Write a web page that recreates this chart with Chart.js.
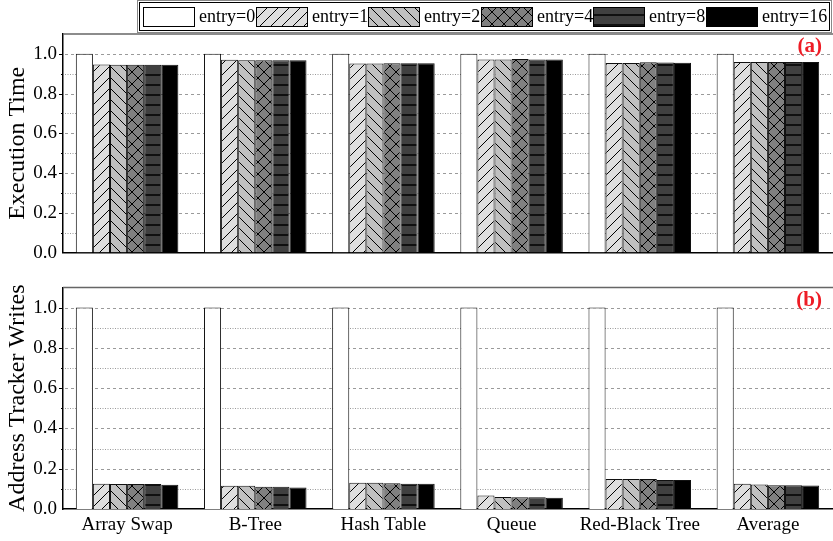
<!DOCTYPE html>
<html>
<head>
<meta charset="utf-8">
<script src="https://cdn.jsdelivr.net/npm/chart.js@4/dist/chart.umd.min.js"></script>
<style>
  html, body { margin: 0; padding: 0; background: #fff; }
  #wrap { position: relative; width: 833px; height: 541px; overflow: hidden; }
  canvas { position: absolute; left: 0; }
</style>
</head>
<body>
<div id="wrap">
  <canvas id="c1" width="833" height="270" style="top:0"></canvas>
  <canvas id="c2" width="833" height="271" style="top:270px"></canvas>
</div>
<script>
// ---------- DATA ----------
const categories = ['Array Swap', 'B-Tree', 'Hash Table', 'Queue', 'Red-Black Tree', 'Average'];
const seriesNames = ['entry=0', 'entry=1', 'entry=2', 'entry=4', 'entry=8', 'entry=16'];

// (a) Execution Time (normalized)
const execEntry0  = [1.000, 1.000, 1.000, 1.000, 1.000, 1.000];
const execEntry1  = [0.946, 0.970, 0.951, 0.972, 0.954, 0.959];
const execEntry2  = [0.945, 0.968, 0.951, 0.972, 0.954, 0.959];
const execEntry4  = [0.945, 0.968, 0.953, 0.974, 0.958, 0.959];
const execEntry8  = [0.945, 0.968, 0.953, 0.972, 0.957, 0.959];
const execEntry16 = [0.945, 0.968, 0.953, 0.972, 0.955, 0.959];

// (b) Address Tracker Writes (normalized)
const writesEntry0  = [1.000, 1.000, 1.000, 1.000, 1.000, 1.000];
const writesEntry1  = [0.125, 0.115, 0.130, 0.067, 0.149, 0.125];
const writesEntry2  = [0.124, 0.115, 0.130, 0.059, 0.149, 0.121];
const writesEntry4  = [0.124, 0.110, 0.128, 0.058, 0.149, 0.118];
const writesEntry8  = [0.124, 0.110, 0.125, 0.058, 0.144, 0.118];
const writesEntry16 = [0.120, 0.107, 0.125, 0.056, 0.144, 0.117];

const yTickValues = [0.0, 0.2, 0.4, 0.6, 0.8, 1.0];
const yGridValues = [0.1, 0.2, 0.3, 0.4, 0.5, 0.6, 0.7, 0.8, 0.9, 1.0];

// ---------- STYLES ----------
const FONT = "'Liberation Serif', 'Times New Roman', serif";

function makePattern(bg, kind, size) {
  const c = document.createElement('canvas');
  c.width = size; c.height = size;
  const g = c.getContext('2d');
  g.fillStyle = bg;
  g.fillRect(0, 0, size, size);
  g.strokeStyle = '#000';
  g.lineWidth = 1;
  g.beginPath();
  if (kind === 'fwd' || kind === 'cross') {
    g.moveTo(0, size); g.lineTo(size, 0);
    g.moveTo(-1, 1); g.lineTo(1, -1);
    g.moveTo(size - 1, size + 1); g.lineTo(size + 1, size - 1);
  }
  if (kind === 'back' || kind === 'cross') {
    g.moveTo(0, 0); g.lineTo(size, size);
    g.moveTo(size - 1, -1); g.lineTo(size + 1, 1);
    g.moveTo(-1, size - 1); g.lineTo(1, size + 1);
  }
  if (kind === 'horiz') {
    g.lineWidth = 1.5;
    g.moveTo(0, size / 2); g.lineTo(size, size / 2);
  }
  g.stroke();
  const ctx = document.createElement('canvas').getContext('2d');
  return ctx.createPattern(c, 'repeat');
}

const fills = [
  '#ffffff',
  makePattern('#dedede', 'fwd', 11),
  makePattern('#c0c0c0', 'back', 11),
  makePattern('#808080', 'cross', 12),
  makePattern('#404040', 'horiz', 10),
  '#000000'
];

function buildDatasets(arrays) {
  return arrays.map((arr, i) => ({
    label: seriesNames[i],
    data: arr,
    backgroundColor: fills[i],
    borderColor: '#111',
    borderWidth: 1,
    borderSkipped: 'bottom',
    categoryPercentage: 0.8,
    barPercentage: 1.0
  }));
}

// ---------- PLUGINS ----------
const framePlugin = {
  id: 'frame',
  beforeDatasetsDraw(chart, args, opts) {
    const { ctx, chartArea: a, scales: { y } } = chart;
    ctx.save();
    // grid lines
    yGridValues.forEach((v, idx) => {
      const py = Math.round(y.getPixelForValue(v)) + 0.5;
      const major = Math.abs((v * 10) % 2) < 1e-6 || Math.abs((v * 10) % 2 - 2) < 1e-6;
      ctx.beginPath();
      ctx.strokeStyle = '#9a9a9a';
      ctx.lineWidth = 1;
      ctx.setLineDash(major ? [3, 3] : [1, 1.5]);
      ctx.moveTo(a.left + 2, py);
      ctx.lineTo(a.right, py);
      ctx.stroke();
      // small tick on the left axis
      ctx.setLineDash([]);
      ctx.strokeStyle = '#000';
      ctx.beginPath();
      ctx.moveTo(a.left - (major ? 4 : 2), py);
      ctx.lineTo(a.left, py);
      ctx.stroke();
    });
    ctx.setLineDash([]);
    // top frame line
    ctx.strokeStyle = '#666';
    ctx.lineWidth = 1.5;
    ctx.beginPath();
    ctx.moveTo(a.left, a.top);
    ctx.lineTo(chart.width, a.top);
    ctx.stroke();
    ctx.restore();
  },
  afterDraw(chart, args, opts) {
    const { ctx, chartArea: a } = chart;
    ctx.save();
    // panel tag
    ctx.font = "bold 21px " + FONT;
    ctx.fillStyle = '#ee1c25';
    ctx.textAlign = 'right';
    ctx.textBaseline = 'middle';
    ctx.fillText(opts.tag, a.right - 10, a.top + 13);
    ctx.restore();
  }
};

const legendPlugin = {
  id: 'customLegend',
  afterDraw(chart, args, opts) {
    if (!opts.show) return;
    const ctx = chart.ctx;
    ctx.save();
    // double border box
    ctx.strokeStyle = '#888';
    ctx.lineWidth = 1;
    ctx.strokeRect(137.5, 0.5, 694, 32);
    ctx.strokeStyle = '#000';
    ctx.strokeRect(139.5, 2.5, 690, 28);
    ctx.font = "18px " + FONT;
    ctx.textBaseline = 'middle';
    ctx.textAlign = 'left';
    let x = 143;
    const stride = 112.6;
    chart.data.datasets.forEach((ds, i) => {
      const bx = Math.round(143 + i * stride);
      ctx.fillStyle = ds.backgroundColor;
      ctx.fillRect(bx, 7, 52, 20);
      ctx.strokeStyle = '#000';
      ctx.lineWidth = 1;
      ctx.strokeRect(bx + 0.5, 7.5, 51, 19);
      ctx.fillStyle = '#000';
      ctx.fillText(ds.label, bx + 56, 17.5);
    });
    ctx.restore();
  }
};

function makeOptions(cfg) {
  return {
    responsive: false,
    animation: false,
    devicePixelRatio: 1,
    layout: { padding: { top: cfg.padTop, left: 0, right: 1, bottom: 0 } },
    plugins: {
      legend: { display: false },
      tooltip: { enabled: false },
      frame: { tag: cfg.tag },
      customLegend: { show: cfg.legend }
    },
    scales: {
      x: {
        type: 'category',
        offset: true,
        grid: { display: false, drawTicks: false },
        border: { display: true, color: '#000', width: 1.5 },
        ticks: {
          display: cfg.showX,
          color: '#000',
          padding: 5,
          maxRotation: 0,
          autoSkip: false,
          font: { family: FONT, size: 19 }
        },
        afterFit(s) { s.height = cfg.xHeight; }
      },
      y: {
        min: 0,
        max: 1.1,
        grid: { display: false, drawTicks: false },
        border: { display: true, color: '#000', width: 1.5 },
        afterBuildTicks(s) { s.ticks = yTickValues.map(v => ({ value: v })); },
        ticks: {
          color: '#000',
          padding: 6,
          font: { family: FONT, size: 19 },
          callback: v => Number(v).toFixed(1)
        },
        title: {
          display: true,
          text: cfg.title,
          color: '#000',
          padding: { top: 3, bottom: 0 },
          font: { family: FONT, size: 24 }
        },
        afterFit(s) { s.width = 63; }
      }
    }
  };
}

new Chart(document.getElementById('c1'), {
  type: 'bar',
  data: {
    labels: categories,
    datasets: buildDatasets([execEntry0, execEntry1, execEntry2, execEntry4, execEntry8, execEntry16])
  },
  options: makeOptions({ padTop: 34, tag: '(a)', legend: true, showX: false, xHeight: 13, title: 'Execution Time' }),
  plugins: [framePlugin, legendPlugin]
});

new Chart(document.getElementById('c2'), {
  type: 'bar',
  data: {
    labels: categories,
    datasets: buildDatasets([writesEntry0, writesEntry1, writesEntry2, writesEntry4, writesEntry8, writesEntry16])
  },
  options: makeOptions({ padTop: 14.5, tag: '(b)', legend: false, showX: true, xHeight: 32, title: 'Address Tracker Writes' }),
  plugins: [framePlugin, legendPlugin]
});
</script>
</body>
</html>
